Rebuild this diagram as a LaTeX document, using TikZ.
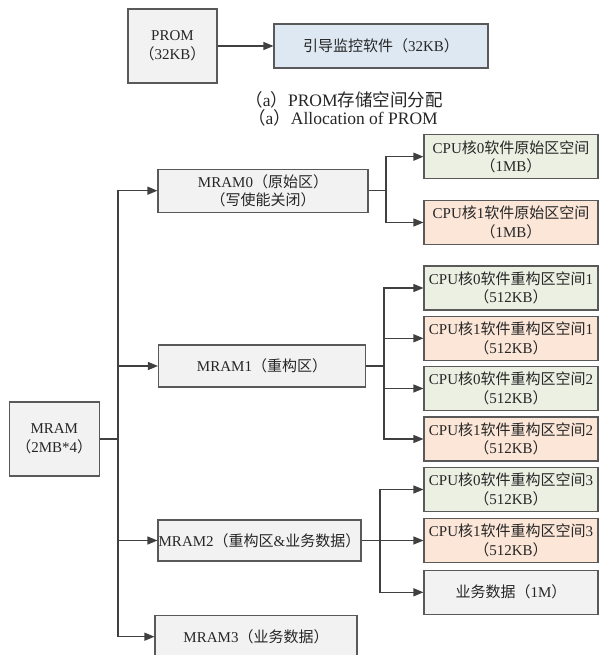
\documentclass[tikz,border=0pt]{standalone}
\usepackage{fontspec}
\setmainfont{Liberation Serif}
\newfontfamily\cjk{Noto Sans CJK SC}
\newcommand{\zh}[1]{{\cjk #1}}
\usetikzlibrary{arrows.meta}
\definecolor{memGray}{HTML}{F2F2F2}
\definecolor{memBlue}{HTML}{DEE8F2}
\definecolor{memGreen}{HTML}{EBF0E3}
\definecolor{memOrange}{HTML}{FBE6D8}
\definecolor{memLine}{HTML}{404040}
\definecolor{memEdge}{HTML}{595959}

\begin{document}
\begin{tikzpicture}[
    x=1pt, y=1pt,
    box/.style={draw=memEdge, line width=1.1pt, fill=memGray, align=center, inner sep=0pt,
      font=\fontsize{15}{18.5}\selectfont, text=black!85},
    leaf/.style={box, minimum width=174pt, minimum height=44pt},
    core0/.style={leaf, fill=memGreen},
    core1/.style={leaf, fill=memOrange},
    link/.style={draw=memLine, line width=1.2pt, -{Triangle[length=10pt,width=8pt]}},
    caption/.style={font=\fontsize{17.5}{17.5}\selectfont, text=black!85, inner sep=0pt}
  ]
    \useasboundingbox (0,0) rectangle (599,655);
    % (a) PROM
    \node[box, minimum width=89pt, minimum height=74pt] (prom) at (172.5,609) {PROM\\\zh{（}32KB\zh{）}};
    \node[box, fill=memBlue, minimum width=214pt, minimum height=44pt] (boot) at (381,609) {\zh{引导监控软件（}32KB\zh{）}};
    \node[caption] (capZh) at (344,555) {\zh{（}a\zh{）}PROM\zh{存储空间分配}};
    \node[caption] (capEn) at (343,537.5) {\zh{（}a\zh{）}Allocation of PROM};
    \draw[link] (prom) -- (boot);
    % MRAM
    \node[box, minimum width=90pt, minimum height=74pt] (mram) at (54.3,216) {MRAM\\\zh{（}2MB*4\zh{）}};
    \node[box, minimum width=210pt, minimum height=43pt] (mram0) at (263,464.3) {MRAM0\zh{（原始区）}\\\zh{（写使能关闭）}};
    \node[box, minimum width=207pt, minimum height=42pt] (mram1) at (262,289) {MRAM1\zh{（重构区）}};
    \node[box, minimum width=203pt, minimum height=41pt] (mram2) at (259.5,114.5) {MRAM2\zh{（重构区}\&\zh{业务数据）}};
    \node[box, minimum width=202pt, minimum height=42pt] (mram3) at (256,18.3) {MRAM3\zh{（业务数据）}};
    \node[core0] (c0orig) at (511,498.3) {CPU\zh{核}0\zh{软件原始区空间}\\\zh{（}1MB\zh{）}};
    \node[core1] (c1orig) at (511,432.5) {CPU\zh{核}1\zh{软件原始区空间}\\\zh{（}1MB\zh{）}};
    \node[core0] (c0re1) at (511,367) {CPU\zh{核}0\zh{软件重构区空间}1\\\zh{（}512KB\zh{）}};
    \node[core1] (c1re1) at (511,316.7) {CPU\zh{核}1\zh{软件重构区空间}1\\\zh{（}512KB\zh{）}};
    \node[core0] (c0re2) at (511,266.5) {CPU\zh{核}0\zh{软件重构区空间}2\\\zh{（}512KB\zh{）}};
    \node[core1] (c1re2) at (511,216) {CPU\zh{核}1\zh{软件重构区空间}2\\\zh{（}512KB\zh{）}};
    \node[core0] (c0re3) at (511,165.5) {CPU\zh{核}0\zh{软件重构区空间}3\\\zh{（}512KB\zh{）}};
    \node[core1] (c1re3) at (511,114.5) {CPU\zh{核}1\zh{软件重构区空间}3\\\zh{（}512KB\zh{）}};
    \node[leaf] (data) at (511,62.7) {\zh{业务数据（}1M\zh{）}};
    \coordinate (trunk) at (118,0);
    \coordinate (fork0) at (386,0);
    \coordinate (fork1) at (384,0);
    \coordinate (fork2) at (380,0);
    % trunk
    \draw[link] (mram.east) -- (mram.east -| trunk) |- (mram0.west);
    \draw[link] (mram.east) -- (mram.east -| trunk) |- (mram1.west);
    \draw[link] (mram.east) -- (mram.east -| trunk) |- (mram2.west);
    \draw[link] (mram.east) -- (mram.east -| trunk) |- (mram3.west);
    % branches
    \draw[link] (mram0.east) -- (mram0.east -| fork0) |- (c0orig.west);
    \draw[link] (mram0.east) -- (mram0.east -| fork0) |- (c1orig.west);
    \draw[link] (mram1.east) -- (mram1.east -| fork1) |- (c0re1.west);
    \draw[link] (mram1.east) -- (mram1.east -| fork1) |- (c1re1.west);
    \draw[link] (mram1.east) -- (mram1.east -| fork1) |- (c0re2.west);
    \draw[link] (mram1.east) -- (mram1.east -| fork1) |- (c1re2.west);
    \draw[link] (mram2.east) -- (mram2.east -| fork2) |- (c0re3.west);
    \draw[link] (mram2.east) -- (c1re3.west);
    \draw[link] (mram2.east) -- (mram2.east -| fork2) |- (data.west);
  \end{tikzpicture}
\end{document}
